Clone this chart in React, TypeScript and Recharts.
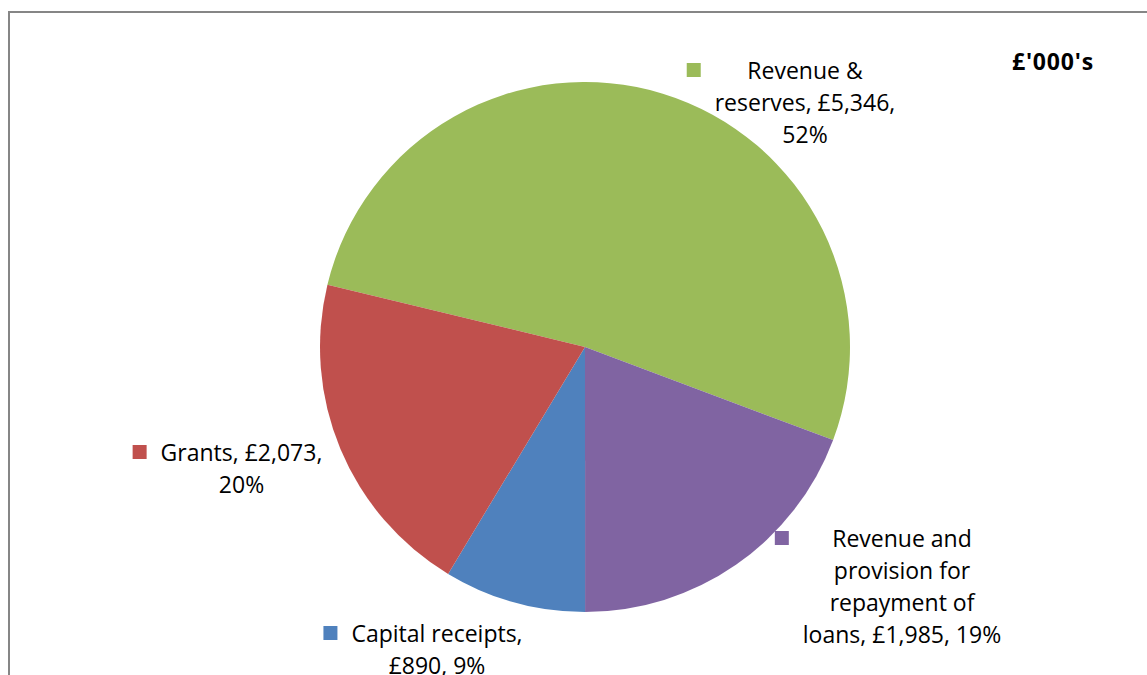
import React from "react";
import { PieChart, Pie, Cell } from "recharts";

const categories = [
  "Revenue & reserves",
  "Revenue and provision for repayment of loans",
  "Capital receipts",
  "Grants",
];
const values = [5346, 1985, 890, 2073];
const colors = ["#9BBB59", "#8064A2", "#4F81BD", "#C0504D"];
const labelLines = [
  ["Revenue &", "reserves, £5,346,", "52%"],
  ["Revenue and", "provision for", "repayment of", "loans, £1,985, 19%"],
  ["Capital receipts,", "£890, 9%"],
  ["Grants, £2,073,", "20%"],
];
// label block anchor (centre x, first line y) relative to the pie centre
const labelOffsets = [
  [220, -277],
  [317, 191],
  [-148, 286],
  [-343.5, 105],
];

const data = categories.map((name, i) => ({ name, value: values[i] }));

const FONT = "'Open Sans', sans-serif";
const FONT_SIZE = 23;
const LINE_H = 32;

let ctx: CanvasRenderingContext2D | null = null;
function measure(t: string): number {
  if (!ctx) {
    ctx = document.createElement("canvas").getContext("2d");
  }
  if (!ctx) return t.length * 10;
  ctx.font = `${FONT_SIZE}px 'Open Sans'`;
  return ctx.measureText(t).width;
}

const renderLabel = (props: any) => {
  const { cx, cy, index } = props;
  const lines = labelLines[index];
  const [dx, dy] = labelOffsets[index];
  const x = cx + dx;
  const y0 = cy + dy;
  const maxW = Math.max(...lines.map(measure));
  const sq = 14;
  const sqX = x - maxW / 2 - 14 - sq;
  return (
    <g key={`lbl-${index}`}>
      <rect x={sqX} y={y0 - sq / 2} width={sq} height={sq} fill={colors[index]} />
      {lines.map((l, i) => (
        <text
          key={i}
          x={x}
          y={y0 + i * LINE_H}
          textAnchor="middle"
          dominantBaseline="central"
          fill="#000"
          fontFamily={FONT}
          fontSize={FONT_SIZE}
        >
          {l}
        </text>
      ))}
    </g>
  );
};

export default function App() {
  return (
    <div
      style={{
        position: "absolute",
        left: 0,
        top: 0,
        width: 1147,
        height: 675,
        overflow: "hidden",
        background: "#fff",
      }}
    >
      <div
        style={{
          position: "absolute",
          left: 8,
          top: 11,
          width: 2000,
          height: 2000,
          borderLeft: "2px solid #868686",
          borderTop: "2px solid #868686",
        }}
      />
      <div style={{ position: "absolute", left: 0, top: 0 }}>
        <PieChart width={1147} height={675} margin={{ top: 0, right: 0, bottom: 0, left: 0 }}>
          <Pie
            data={data}
            dataKey="value"
            nameKey="name"
            cx={585}
            cy={347}
            outerRadius={265}
            startAngle={166.4}
            endAngle={-193.6}
            stroke="none"
            label={renderLabel}
            labelLine={false}
            isAnimationActive={false}
          >
            {data.map((d, i) => (
              <Cell key={d.name} fill={colors[i]} />
            ))}
          </Pie>
        </PieChart>
      </div>
      <div
        style={{
          position: "absolute",
          left: 1012,
          top: 45,
          fontFamily: FONT,
          fontSize: 23,
          fontWeight: 700,
          letterSpacing: 0.8,
          color: "#000",
          whiteSpace: "nowrap",
        }}
      >
        £'000's
      </div>
    </div>
  );
}
